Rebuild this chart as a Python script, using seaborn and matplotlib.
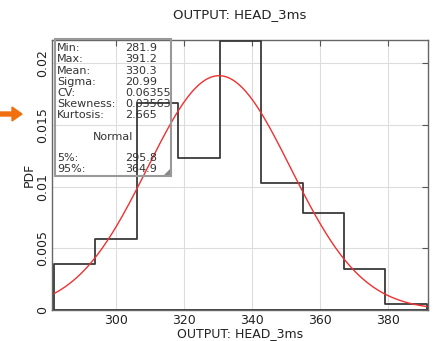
import numpy as np
import pandas as pd
import seaborn as sns
import matplotlib
matplotlib.use("Agg")
import matplotlib.pyplot as plt
from matplotlib.patches import Rectangle, Polygon, FancyArrow

# ---- data ----
bin_edges = [281.9, 294.0, 306.2, 318.3, 330.5, 342.6, 354.8, 366.9, 379.1, 391.2]
bin_heights = [0.00372, 0.00575, 0.0168, 0.01233, 0.0218, 0.01027, 0.00783, 0.00331, 0.00046]
fit_mean = 330.3
fit_sigma = 20.99
stat_labels = ["Min:", "Max:", "Mean:", "Sigma:", "CV:", "Skewness:", "Kurtosis:"]
stat_values = ["281.9", "391.2", "330.3", "20.99", "0.06355", "0.03563", "2.665"]
pct_labels = ["5%:", "95%:"]
pct_values = ["295.8", "364.9"]
x_ticks = [300, 320, 340, 360, 380]
y_ticks = [0, 0.005, 0.01, 0.015, 0.02]
y_ticklabels = ["0", "0.005", "0.01", "0.015", "0.02"]
title = "OUTPUT: HEAD_3ms"

sns.set_theme(style="white")
plt.rcParams["font.family"] = ["DejaVu Sans"]

W, H = 435, 341
fig = plt.figure(figsize=(W / 100, H / 100), dpi=100)

def fx(px):
    return px / W

def fy(py):
    return 1 - py / H

ax = fig.add_axes([fx(52), fy(310), fx(428) - fx(52), fy(40) - fy(310)])

centers = [(bin_edges[i] + bin_edges[i + 1]) / 2 for i in range(len(bin_heights))]
df = pd.DataFrame({"x": centers, "w": bin_heights})
sns.histplot(data=df, x="x", weights="w", bins=bin_edges, element="step",
             fill=True, ax=ax, color="#3a3a3a", linewidth=1.3, zorder=3)
for coll in ax.collections:
    coll.set_facecolor("none")
    coll.set_edgecolor("#3a3a3a")
    coll.set_alpha(1)

xs = np.linspace(bin_edges[0], bin_edges[-1], 300)
pdf = np.exp(-0.5 * ((xs - fit_mean) / fit_sigma) ** 2) / (fit_sigma * np.sqrt(2 * np.pi))
sns.lineplot(x=xs, y=pdf, ax=ax, color="#f03030", linewidth=1.0, zorder=4)

ax.set_xlim(281.3, 391.6)
ax.set_ylim(0, 0.0219)
ax.set_xticks(x_ticks)
ax.set_yticks(y_ticks)
ax.set_yticklabels(y_ticklabels, rotation=90, va="center")
ax.tick_params(axis="both", direction="in", length=4, width=0.8, colors="#555555",
               labelcolor="#222222", labelsize=9, top=True, right=True, pad=2)
ax.tick_params(axis="x", pad=3)
ax.grid(True, color="#dddddd", linewidth=0.8)
ax.set_axisbelow(True)
for s in ax.spines.values():
    s.set_color("#666666")
    s.set_linewidth(1.0)

ax.set_xlabel(title, fontsize=9, color="#222222", labelpad=0)
ax.set_ylabel("PDF", fontsize=9, color="#222222", labelpad=0)
ax.set_title(title, fontsize=9.5, color="#222222", pad=16)

# stats box
bx0, by0, bx1, by1 = 55, 39, 171, 176
fig.patches.append(Rectangle((fx(bx0), fy(by1)), fx(bx1) - fx(bx0), fy(by0) - fy(by1),
                             transform=fig.transFigure, facecolor="none",
                             edgecolor="#999999", linewidth=1.5, zorder=10))
fig.patches.append(Polygon([(fx(bx1 - 1), fy(by1 - 1)), (fx(bx1 - 7), fy(by1 - 1)),
                            (fx(bx1 - 1), fy(by1 - 7))], closed=True,
                           transform=fig.transFigure, facecolor="#888888",
                           edgecolor="none", zorder=11))
row_y = [48, 59.5, 71, 82, 93, 104, 115]
for lab, val, yy in zip(stat_labels, stat_values, row_y):
    fig.text(fx(57), fy(yy), lab, fontsize=8, color="#333333", va="center", ha="left")
    fig.text(fx(125), fy(yy), val, fontsize=8, color="#333333", va="center", ha="left")
fig.text(fx(113), fy(137), "Normal", fontsize=8, color="#333333", va="center", ha="center")
for lab, val, yy in zip(pct_labels, pct_values, [158, 169]):
    fig.text(fx(57), fy(yy), lab, fontsize=8, color="#333333", va="center", ha="left")
    fig.text(fx(125), fy(yy), val, fontsize=8, color="#333333", va="center", ha="left")

# orange arrow marker at left
fig.patches.append(FancyArrow(fx(0), fy(114), fx(22) - fx(0), 0, width=4 / H,
                              head_width=14 / H, head_length=10 / W,
                              length_includes_head=True, transform=fig.transFigure,
                              color="#f07010", zorder=12))

fig.savefig("out.png", dpi=100)
